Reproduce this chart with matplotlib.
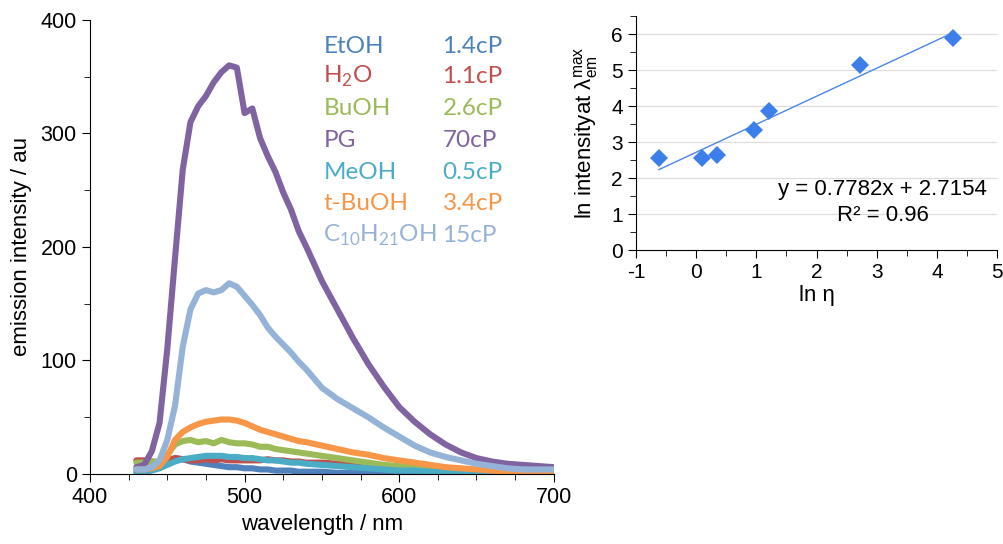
import matplotlib
matplotlib.use('Agg')
import matplotlib.pyplot as plt
from matplotlib.ticker import MultipleLocator

plt.rcParams['font.family'] = ['Liberation Sans', 'DejaVu Sans']
plt.rcParams['axes.unicode_minus'] = False

# emission spectra
wavelength = [430, 435, 440, 445, 450, 455, 460, 465, 470, 475, 480, 485, 490,
              495, 500, 505, 510, 515, 520, 525, 530, 535, 540, 550, 560, 570,
              580, 590, 600, 610, 620, 630, 640, 650, 660, 670, 680, 690, 700]

etoh = [1, 2, 4, 8, 11, 14, 13, 11, 10, 9, 8, 7, 6, 6, 5, 5, 4, 4, 3, 3, 3, 2,
        2, 2, 1, 1, 1, 1, 1, 0, 0, 0, 0, 0, 0, 0, 0, 0, 0]
h2o = [12, 12, 11, 10, 12, 14, 13, 12, 12, 13, 12, 13, 12, 12, 12, 12, 12, 13,
       12, 12, 11, 11, 10, 10, 9, 8, 7, 6, 5, 4, 3, 3, 2, 2, 1, 1, 1, 1, 1]
buoh = [10, 10, 11, 11, 17, 26, 29, 30, 28, 29, 27, 30, 28, 27, 27, 26, 24, 24,
        22, 21, 20, 19, 18, 16, 14, 12, 10, 8, 7, 6, 5, 4, 3, 3, 2, 2, 1, 1, 1]
pg = [6, 8, 20, 45, 110, 190, 268, 310, 324, 333, 345, 354, 360, 358, 318, 322,
      296, 280, 266, 248, 233, 214, 200, 170, 145, 120, 97, 77, 59, 46, 35, 26,
      19, 14, 11, 9, 8, 7, 6]
meoh = [2, 2, 3, 5, 8, 11, 13, 14, 15, 16, 16, 16, 15, 15, 14, 14, 13, 12, 12,
        11, 10, 10, 9, 8, 7, 6, 5, 4, 3, 3, 2, 2, 1, 1, 1, 1, 0, 0, 0]
tbuoh = [4, 4, 5, 7, 15, 30, 37, 41, 44, 46, 47, 48, 48, 47, 45, 42, 39, 37, 35,
         33, 31, 29, 28, 25, 22, 19, 17, 14, 12, 10, 8, 6, 5, 4, 3, 2, 2, 1, 1]
c10 = [4, 4, 6, 12, 30, 60, 112, 145, 159, 162, 160, 162, 168, 165, 157, 149,
       140, 129, 121, 114, 107, 99, 92, 76, 66, 58, 50, 41, 33, 25, 19, 15, 12,
       9, 7, 5, 4, 4, 4]

solvents = ['EtOH', 'H$_{\\mathregular{2}}$O', 'BuOH', 'PG', 'MeOH', 't-BuOH',
            'C$_{\\mathregular{10}}$H$_{\\mathregular{21}}$OH']
viscosity_labels = ['1.4cP', '1.1cP', '2.6cP', '70cP', '0.5cP', '3.4cP', '15cP']
spectra = [etoh, h2o, buoh, pg, meoh, tbuoh, c10]
colors = ['#4F81BD', '#C0504D', '#9BBB59', '#8064A2', '#4BACC6', '#F79646',
          '#95B3D7']

# ln(viscosity) vs ln(max intensity)
ln_eta = [-0.62, 0.09, 0.34, 0.96, 1.21, 2.72, 4.27]
ln_intensity = [2.56, 2.56, 2.63, 3.33, 3.85, 5.15, 5.89]
slope = 0.7782
intercept = 2.7154

fig = plt.figure(figsize=(10.04, 5.44), dpi=100)

# left panel: spectra
ax1 = fig.add_axes([0.0896, 0.1287, 0.462, 0.8346])
for vals, col in zip(spectra, colors):
    ax1.plot(wavelength, vals, color=col, lw=4.4, solid_capstyle='round',
             solid_joinstyle='round')

ax1.set_xlim(400, 700)
ax1.set_ylim(0, 400)
ax1.xaxis.set_major_locator(MultipleLocator(100))
ax1.xaxis.set_minor_locator(MultipleLocator(25))
ax1.yaxis.set_major_locator(MultipleLocator(100))
ax1.yaxis.set_minor_locator(MultipleLocator(50))
ax1.spines['top'].set_visible(False)
ax1.spines['right'].set_visible(False)
ax1.tick_params(which='major', direction='out', length=6, labelsize=15.5)
ax1.tick_params(which='minor', direction='out', length=4)
ax1.set_xlabel('wavelength / nm', fontsize=16, labelpad=4)
ax1.set_ylabel('emission intensity / au', fontsize=16, labelpad=6)

row_y = [377, 350, 322, 294, 266, 238, 210]
for name, visc, col, y in zip(solvents, viscosity_labels, colors, row_y):
    ax1.text(551, y, name, color=col, fontsize=17.5, family='Lato',
             va='center', ha='left')
    ax1.text(628, y, visc, color=col, fontsize=17.5, family='Lato',
             va='center', ha='left')

# right panel: ln I vs ln eta
ax2 = fig.add_axes([0.6335, 0.5404, 0.3595, 0.4301])
ax2.set_xlim(-1, 5)
ax2.set_ylim(0, 6.5)
for yv in range(1, 7):
    ax2.axhline(yv, color='#DDDDDD', lw=0.9, zorder=0)
x_fit = [min(ln_eta), max(ln_eta)]
y_fit = [slope * v + intercept for v in x_fit]
ax2.plot(x_fit, y_fit, color='#4A86E8', lw=1.0, zorder=2)
ax2.plot(ln_eta, ln_intensity, 'D', color='#3D7FEA', markersize=9,
         markeredgewidth=0, zorder=3)

ax2.xaxis.set_major_locator(MultipleLocator(1))
ax2.xaxis.set_minor_locator(MultipleLocator(0.5))
ax2.yaxis.set_major_locator(MultipleLocator(1))
ax2.yaxis.set_minor_locator(MultipleLocator(0.5))
ax2.spines['top'].set_visible(False)
ax2.spines['right'].set_visible(False)
ax2.tick_params(which='major', direction='out', length=6, labelsize=15)
ax2.tick_params(which='minor', direction='out', length=4)
ax2.set_xlabel('ln η', fontsize=16, labelpad=2)
ax2.set_ylabel('ln intensityat λ$_{\\mathregular{em}}^{\\mathregular{max}}$',
               fontsize=16, labelpad=8)
ax2.text(3.1, 1.68, 'y = 0.7782x + 2.7154', fontsize=16, ha='center',
         va='center')
ax2.text(3.1, 0.95, 'R² = 0.96', fontsize=16, ha='center', va='center')

fig.savefig('out.png', dpi=100)
